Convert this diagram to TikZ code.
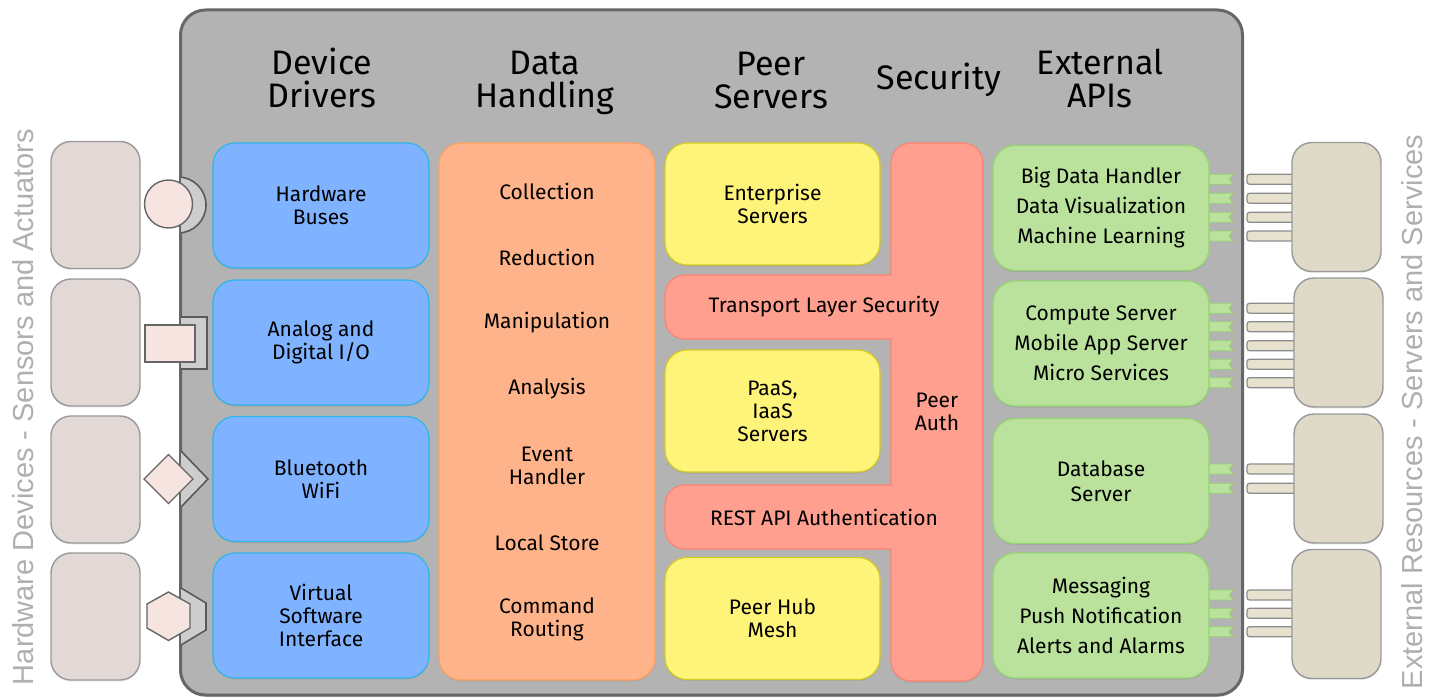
\documentclass[tikz,border=0pt]{standalone}
\usepackage{fontspec}
\setmainfont{Fira Sans}
\newfontfamily\sidefont{Liberation Sans}
\usetikzlibrary{positioning,shadows}

\definecolor{frame}{HTML}{B3B3B3}
\definecolor{frameline}{HTML}{676767}
\definecolor{drvfill}{HTML}{80B3FF}
\definecolor{drvline}{HTML}{2FB5E8}
\definecolor{datfill}{HTML}{FFB38A}
\definecolor{datline}{HTML}{FF9F62}
\definecolor{peerfill}{HTML}{FFF47A}
\definecolor{peerline}{HTML}{D4CC22}
\definecolor{secfill}{HTML}{FF9F8F}
\definecolor{secline}{HTML}{FF8272}
\definecolor{apifill}{HTML}{BBE29D}
\definecolor{apiline}{HTML}{93D56F}
\definecolor{devfill}{HTML}{E2D9D6}
\definecolor{devplug}{HTML}{F5E4E0}
\definecolor{resfill}{HTML}{DEDAC7}
\definecolor{resplug}{HTML}{E6E2CF}
\definecolor{socket}{HTML}{CDCDCD}
\definecolor{sidetext}{HTML}{AFAFAF}

\begin{document}
\begin{tikzpicture}[x=1pt, y=-1pt, inner sep=0pt,
  every node/.style={font=\fontsize{21}{23}\selectfont, align=center},
  head/.style={font=\fontsize{34}{33}\selectfont},
  side/.style={font=\sidefont\fontsize{29}{29}\selectfont, text=sidetext, rotate=90},
  block/.style={rounded corners=22pt, line width=1.2pt, minimum width=216pt, minimum height=125pt,
    drop shadow={shadow xshift=0pt, shadow yshift=-1.5pt, opacity=.25}},
  driver/.style={block, fill=drvfill, draw=drvline},
  datacol/.style={block, fill=datfill, draw=datline},
  peer/.style={block, fill=peerfill, draw=peerline, minimum width=215pt, minimum height=122pt},
  secbar/.style={rounded corners=20pt, line width=1.2pt, fill=secfill, draw=secline},
  api/.style={block, fill=apifill, draw=apiline, font=\fontsize{21}{30}\selectfont},
  device/.style={rounded corners=20pt, line width=1.4pt, fill=devfill, draw=black!40,
    minimum width=89pt, minimum height=127pt, drop shadow={shadow xshift=0pt, shadow yshift=-1.5pt, opacity=.15}},
  resource/.style={device, fill=resfill, minimum height=129pt},
  plugin/.style={line width=1.4pt, fill=devplug, draw=black!60},
  sock/.style={line width=1.6pt, fill=socket, draw=black!65},
  apitab/.style={line width=.8pt, fill=apifill, draw=apiline},
  resplugs/.style={line width=1.2pt, fill=resplug, draw=black!45, rounded corners=2.5pt}]

\useasboundingbox (0,0) rectangle (1437,698);

\node[side] (hwlabel) at (23,407) {Hardware Devices - Sensors and Actuators};
\node[side] (exlabel) at (1412,412) {External Resources - Servers and Services};

\node[device] (dev1) at (95.5,205) {};
\node[device] (dev2) at (95.5,342.5) {};
\node[device] (dev3) at (95.5,479.5) {};
\node[device] (dev4) at (95.5,616.5) {};

\foreach \ry in {179.3,198.3,217.3,236}
  \draw[resplugs] (1247,\ry-5) rectangle ++(52,10);
\foreach \ry in {308.3,326.7,345.7,364.3,382.7}
  \draw[resplugs] (1247,\ry-5) rectangle ++(52,10);
\foreach \ry in {469,488.3}
  \draw[resplugs] (1247,\ry-5) rectangle ++(52,10);
\foreach \ry in {595,613.3,631.7}
  \draw[resplugs] (1247,\ry-5) rectangle ++(52,10);

\node[resource] (res1) at (1336.5,207) {};
\node[resource] (res2) at (1338.5,342.5) {};
\node[resource] (res3) at (1338.5,478.5) {};
\node[resource] (res4) at (1336.5,614) {};

\node[rounded corners=25pt, line width=3pt, fill=frame, draw=frameline,
  minimum width=1062pt, minimum height=685pt,
  drop shadow={shadow xshift=0pt, shadow yshift=-2pt, opacity=.3}] (hub) at (711.5,352.5) {};

\node[head] (hdrivers) at (322,78) {Device\\Drivers};
\node[head] (hdata) at (545,82.5) {Data\\Handling};
\node[head] (hpeer) at (771,80) {Peer\\Servers};
\node[head] (hsec) at (939,80) {Security};
\node[head] (hapi) at (1100,78) {External\\APIs};

\node[driver] (buses) at (321,205.5) {Hardware\\Buses};
\node[driver] (analog) at (321,342.5) {Analog and\\Digital I/O};
\node[driver] (radio) at (321,479) {Bluetooth\\WiFi};
\node[driver] (virtual) at (321,615.5) {Virtual\\Software\\Interface};

\node[datacol, minimum height=537pt] (data) at (547,411.5) {};
\node (collect) at (547,191) {Collection};
\node (reduce) at (547,257) {Reduction};
\node (manip) at (547,323) {Manipulation};
\node (analyse) at (547,389) {Analysis};
\node (events) at (547,465.5) {Event\\Handler};
\node (store) at (547,543) {Local Store};
\node (routing) at (547,619.5) {Command\\Routing};

\node[peer] (enterprise) at (772.5,204) {Enterprise\\Servers};
\node[peer] (paas) at (772.5,411) {PaaS,\\IaaS\\Servers};
\node[peer] (mesh) at (772.5,618.5) {Peer Hub\\Mesh};

% security column with the two bars joined into it
\node[secbar, minimum width=92pt, minimum height=538pt,
  drop shadow={shadow xshift=0pt, shadow yshift=-1.5pt, opacity=.25}] (auth) at (937,412) {Peer\\Auth};
\node[secbar, minimum width=318pt, minimum height=64pt] (tls) at (824,307) {};
\node[secbar, minimum width=318pt, minimum height=64pt] (rest) at (824,517) {};
\foreach \by in {307,517} {
  \fill[secfill] (889,\by-31.2) rectangle (893,\by+31.2);
  \fill[secfill] (891.6,\by-34) rectangle (982.2,\by+34);
}
\node (tlstext) at (tls) {Transport Layer Security};
\node (resttext) at (rest) {REST API Authentication};

\foreach \ty in {179.3,198.3,217.3,236,308.3,326.7,345.7,364.3,382.7,469,488.3,595,613.3,631.7}
  \draw[apitab] (1203,\ty-5) -- ++(30,0) -- ++(-4,5) -- ++(4,5) -- ++(-30,0) -- cycle;

\node[api] (bigdata) at (1101,208) {Big Data Handler\\Data Visualization\\Machine Learning};
\node[api] (compute) at (1101,343.5) {Compute Server\\Mobile App Server\\Micro Services};
\node[api, font=\fontsize{21}{25}\selectfont] (database) at (1101,481) {Database\\Server};
\node[api] (messaging) at (1101,615.5) {Messaging\\Push Notification\\Alerts and Alarms};

% sockets on the hub edge, plugs of the devices in front
\begin{scope}
  \clip (181,150) rectangle (240,260);
  \filldraw[sock] (178,205) circle[radius=28pt];
\end{scope}
\filldraw[sock] (181,317) -- (207,317) -- (207,369) -- (181,369);
\filldraw[sock] (181,451) -- (208,479) -- (181,507);
\filldraw[sock] (181,588) -- (206,603) -- (206,630) -- (181,645);

\node[plugin, circle, minimum size=48pt] (con1) at (168.5,204) {};
\node[plugin, minimum width=50pt, minimum height=37pt] (con2) at (170,343.5) {};
\draw[plugin] (144,479) -- (168.5,454.5) -- (193,479) -- (168.5,503.5) -- cycle;
\draw[plugin] (168.5,592) -- (190,604) -- (190,628) -- (168.5,640.5) -- (147,628) -- (147,604) -- cycle;

\end{tikzpicture}
\end{document}
